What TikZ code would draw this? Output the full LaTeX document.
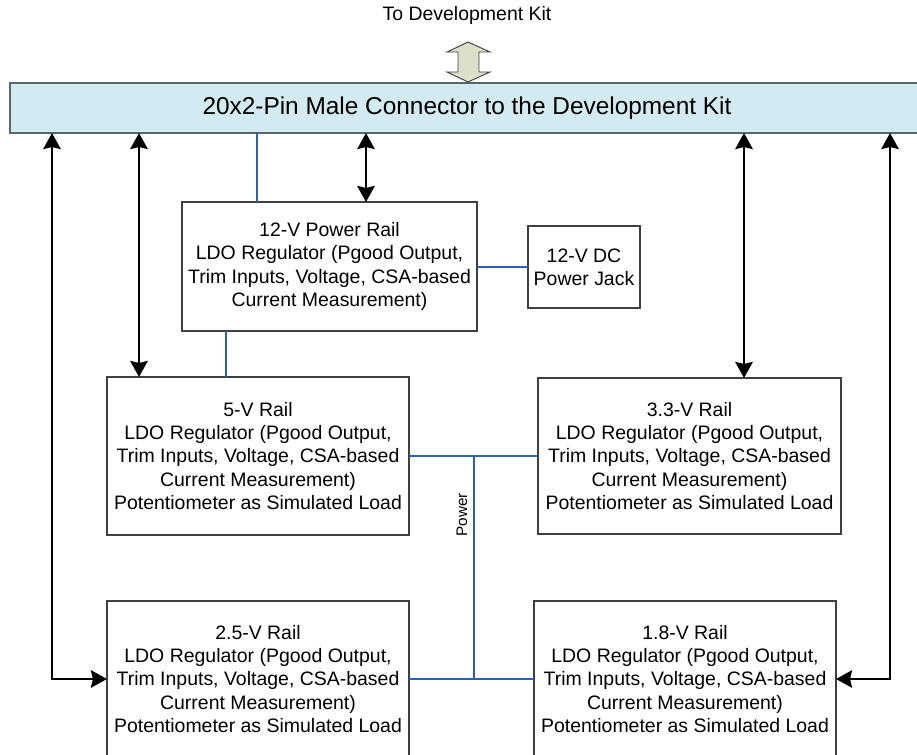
\documentclass[tikz,border=0pt]{standalone}
\usepackage{fontspec}
\setmainfont{Liberation Sans}
\usetikzlibrary{arrows.meta}
\definecolor{barfill}{HTML}{D3EBF0}
\definecolor{barline}{HTML}{5A666B}
\definecolor{boxline}{HTML}{404040}
\definecolor{powerblue}{HTML}{2E62AE}
\definecolor{fatfill}{HTML}{DDE0C8}
\begin{document}
\begin{tikzpicture}[x=0.75pt,y=-0.75pt,
  box/.style={draw=boxline, line width=0.8pt, fill=white, align=center, inner sep=0pt, outer sep=0pt, font=\fontsize{14.6}{17.5}\selectfont},
  pw/.style={draw=powerblue, line width=1.6pt},
  dbl/.style={draw=black, line width=2.2pt, {Stealth[width=13pt,length=12pt,inset=1.5pt]}-{Stealth[width=13pt,length=12pt,inset=1.5pt]}},
]
\useasboundingbox (0,0) rectangle (917,755);
% bar
\node[draw=barline, line width=0.9pt, fill=barfill, minimum width=685.5pt, minimum height=37.5pt, inner sep=0pt, outer sep=0pt, font=\fontsize{18.3}{21}\selectfont] (bar) at (467,108) {20x2-Pin Male Connector to the Development Kit};
\node[font=\fontsize{14.6}{17}\selectfont] (top) at (467,15) {To Development Kit};
% fat double arrow
\draw[fill=fatfill, draw=boxline, line width=0.7pt] (447,52) -- (468,42) -- (490,52) -- (479,52) -- (479,72) -- (490,72) -- (468,82) -- (447,72) -- (458,72) -- (458,52) -- cycle;
% boxes
\node[box, minimum width=221.25pt, minimum height=96.75pt] (v12) at (329.5,266.5) {12-V Power Rail\\LDO Regulator (Pgood Output,\\Trim Inputs, Voltage, CSA-based\\Current Measurement)};
\node[box, minimum width=84pt, minimum height=61.5pt] (jack) at (584,267) {12-V DC\\Power Jack};
\node[box, minimum width=226.5pt, minimum height=118.5pt] (v5) at (258,456) {5-V Rail\\LDO Regulator (Pgood Output,\\Trim Inputs, Voltage, CSA-based\\Current Measurement)\\Potentiometer as Simulated Load};
\node[box, minimum width=227.25pt, minimum height=117pt] (v33) at (689.5,456) {3.3-V Rail\\LDO Regulator (Pgood Output,\\Trim Inputs, Voltage, CSA-based\\Current Measurement)\\Potentiometer as Simulated Load};
\node[box, minimum width=226.5pt, minimum height=117pt] (v25) at (258,679) {2.5-V Rail\\LDO Regulator (Pgood Output,\\Trim Inputs, Voltage, CSA-based\\Current Measurement)\\Potentiometer as Simulated Load};
\node[box, minimum width=226.5pt, minimum height=117pt] (v18) at (685,679) {1.8-V Rail\\LDO Regulator (Pgood Output,\\Trim Inputs, Voltage, CSA-based\\Current Measurement)\\Potentiometer as Simulated Load};
% helper coordinates
\coordinate (xa) at (52,0);
\coordinate (xb) at (139,0);
\coordinate (xc) at (226,0);
\coordinate (xd) at (257,0);
\coordinate (xe) at (366,0);
\coordinate (xf) at (744,0);
\coordinate (xg) at (890,0);
\coordinate (j1) at (474,456);
% power lines
\draw[pw] (bar.south -| xd) -- (v12.north -| xd);
\draw[pw] (v12.east |- jack.west) -- (jack.west);
\draw[pw] (v12.south -| xc) -- (v5.north -| xc);
\draw[pw] (v5.east) -- (v33.west);
\draw[pw] (j1) -- (j1 |- v25.east);
\draw[pw] (v25.east) -- (v18.west);
\node[rotate=90, font=\fontsize{11.5}{13}\selectfont] (plabel) at (462,515) {Power};
% signal arrows
\draw[dbl] (bar.south -| xe) -- (v12.north -| xe);
\draw[dbl] (bar.south -| xb) -- (v5.north -| xb);
\draw[dbl] (bar.south -| xf) -- (v33.north -| xf);
\draw[dbl] (bar.south -| xa) |- (v25.west);
\draw[dbl] (bar.south -| xg) |- (v18.east);
\end{tikzpicture}
\end{document}
